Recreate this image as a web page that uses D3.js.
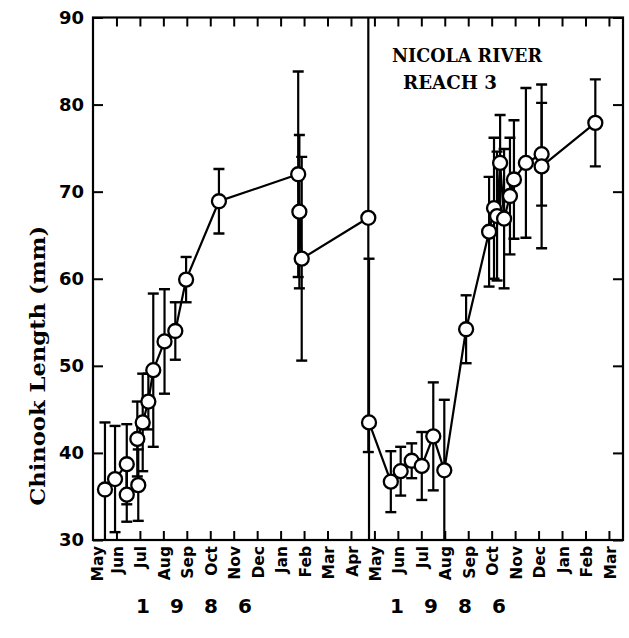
<!DOCTYPE html>
<html>
<head>
<meta charset="utf-8">
<script src="https://cdn.jsdelivr.net/npm/d3@7/dist/d3.min.js"></script>
<style>
  html, body { margin: 0; padding: 0; background: #fff; }
  svg { display: block; }
</style>
</head>
<body>
<svg id="chart" width="629" height="638"></svg>
<script>
// Month tick labels, May 1986 through March of the second season
const monthLabels = ["May","Jun","Jul","Aug","Sep","Oct","Nov","Dec","Jan","Feb","Mar","Apr",
                     "May","Jun","Jul","Aug","Sep","Oct","Nov","Dec","Jan","Feb","Mar"];
const yTicks = [30, 40, 50, 60, 70, 80, 90];
const yearLabels = ["1 9 8 6", "1 9 8 6"];

// First season: sampling time (months after 1 May), mean length (mm), SD (mm)
const monthA = [0.51, 0.94, 1.44, 1.44, 1.93, 1.89, 2.12, 2.36, 2.57, 3.05, 3.51, 3.97, 5.37, 8.75, 8.80, 8.90, 11.74];
const lengthA = [35.8, 37.0, 38.7, 35.2, 36.3, 41.6, 43.5, 45.9, 49.5, 52.8, 54.0, 59.9, 68.9, 72.0, 67.7, 62.3, 67.0];
const sdA     = [7.7, 6.1, 4.6, 3.1, 4.1, 4.3, 5.6, 3.2, 8.8, 6.0, 3.3, 2.6, 3.7, 11.8, 8.8, 11.7, 26.9];

// Second season
const monthB = [11.77, 12.70, 13.12, 13.59, 14.02, 14.51, 14.98, 15.91, 16.89, 17.10, 17.23, 17.36, 17.53, 17.78, 17.95, 18.46, 19.13, 19.13, 21.42];
const lengthB = [43.5, 36.7, 37.9, 39.1, 38.5, 41.9, 38.0, 54.2, 65.4, 68.1, 67.2, 73.3, 66.9, 69.5, 71.4, 73.3, 74.3, 72.9, 77.9];
const sdB     = [18.8, 3.5, 2.8, 2.0, 3.9, 6.2, 8.1, 3.9, 6.3, 8.1, 7.4, 5.5, 8.0, 6.7, 6.8, 8.6, 5.9, 9.4, 5.0];

const svg = d3.select("#chart");
const margin = { left: 93, right: 6, top: 17.5, bottom: 98 };
const W = 629, H = 638;
const x = d3.scaleLinear().domain([0, 22.6]).range([margin.left, W - margin.right]);
const y = d3.scaleLinear().domain([30, 90]).range([H - margin.bottom, margin.top]);

const ink = "#000";
const sans = "'DejaVu Sans', 'Liberation Sans', sans-serif";
const serif = "'DejaVu Serif', 'Liberation Serif', serif";

svg.append("defs").append("clipPath").attr("id", "plotClip")
  .append("rect")
  .attr("x", x(0)).attr("y", y(90))
  .attr("width", x(22.6) - x(0)).attr("height", y(30) - y(90));

// Axes with inward ticks on all four sides
const tickIdx = d3.range(1, monthLabels.length);
svg.append("g")
  .attr("transform", `translate(0,${y(30)})`)
  .call(d3.axisBottom(x).tickValues(tickIdx).tickSize(-9).tickFormat(""))
  .call(g => g.select(".domain").remove())
  .call(g => g.selectAll("line").attr("stroke", ink).attr("stroke-width", 2));
svg.append("g")
  .attr("transform", `translate(0,${y(90)})`)
  .call(d3.axisTop(x).tickValues(tickIdx).tickSize(-9).tickFormat(""))
  .call(g => g.select(".domain").remove())
  .call(g => g.selectAll("line").attr("stroke", ink).attr("stroke-width", 2));
svg.append("g")
  .attr("transform", `translate(${x(0)},0)`)
  .call(d3.axisLeft(y).tickValues(yTicks).tickSize(-10).tickPadding(9).tickFormat(d3.format("d")))
  .call(g => g.select(".domain").remove())
  .call(g => g.selectAll("line").attr("stroke", ink).attr("stroke-width", 2))
  .call(g => g.selectAll("text").attr("fill", ink)
    .style("font-family", sans).style("font-weight", "bold").style("font-size", "18px"));
svg.append("g")
  .attr("transform", `translate(${x(22.6)},0)`)
  .call(d3.axisRight(y).tickValues(yTicks).tickSize(-10).tickFormat(""))
  .call(g => g.select(".domain").remove())
  .call(g => g.selectAll("line").attr("stroke", ink).attr("stroke-width", 2));

// Plot frame
svg.append("rect")
  .attr("x", x(0)).attr("y", y(90))
  .attr("width", x(22.6) - x(0)).attr("height", y(30) - y(90))
  .attr("fill", "none").attr("stroke", ink).attr("stroke-width", 2.2);

// Month labels, rotated
svg.append("g").selectAll("text")
  .data(monthLabels)
  .join("text")
  .attr("transform", (d, i) => `translate(${x(i) + (i === 0 ? 4 : 1)},${y(30) + 6}) rotate(-90)`)
  .attr("text-anchor", "end")
  .attr("dy", "0.36em")
  .style("font-family", sans).style("font-weight", "bold").style("font-size", "15.5px")
  .attr("fill", ink)
  .text(d => d);

// Year labels under each season
svg.append("g").selectAll("text")
  .data(yearLabels)
  .join("text")
  .attr("x", (d, i) => i === 0 ? 136 : 390)
  .attr("y", 613)
  .attr("textLength", 116).attr("lengthAdjust", "spacing")
  .style("font-family", sans).style("font-weight", "bold").style("font-size", "20px")
  .attr("fill", ink)
  .text(d => d);

// Y axis title
svg.append("text")
  .attr("transform", `translate(38,${(y(30) + y(90)) / 2 + 87}) rotate(-90)`)
  .attr("text-anchor", "middle")
  .attr("dy", "0.35em")
  .attr("textLength", 280).attr("lengthAdjust", "spacingAndGlyphs")
  .style("font-family", serif).style("font-weight", "bold").style("font-size", "20px")
  .attr("fill", ink)
  .text("Chinook Length (mm)");

// Reach title
svg.append("text").attr("x", 392).attr("y", 62)
  .attr("textLength", 150).attr("lengthAdjust", "spacingAndGlyphs")
  .style("font-family", serif).style("font-weight", "bold").style("font-size", "19px")
  .attr("fill", ink).text("NICOLA RIVER");
svg.append("text").attr("x", 403).attr("y", 89)
  .attr("textLength", 94).attr("lengthAdjust", "spacingAndGlyphs")
  .style("font-family", serif).style("font-weight", "bold").style("font-size", "19px")
  .attr("fill", ink).text("REACH 3");

const plot = svg.append("g").attr("clip-path", "url(#plotClip)");

function drawSeries(months, lengths, sds) {
  const pts = months.map((m, i) => ({ m, v: lengths[i], s: sds[i] }));
  const g = plot.append("g");
  // error bars
  const eb = g.append("g").selectAll("g").data(pts).join("g");
  eb.append("line")
    .attr("x1", d => x(d.m)).attr("x2", d => x(d.m))
    .attr("y1", d => y(d.v + d.s)).attr("y2", d => y(d.v - d.s))
    .attr("stroke", ink).attr("stroke-width", 2.2);
  [1, -1].forEach(sign => {
    eb.append("line")
      .attr("x1", d => x(d.m) - 5.5).attr("x2", d => x(d.m) + 5.5)
      .attr("y1", d => y(d.v + sign * d.s)).attr("y2", d => y(d.v + sign * d.s))
      .attr("stroke", ink).attr("stroke-width", 2.4);
  });
  // connecting line
  g.append("path")
    .datum(pts)
    .attr("d", d3.line().x(d => x(d.m)).y(d => y(d.v)))
    .attr("fill", "none").attr("stroke", ink).attr("stroke-width", 2.2);
  // open circles
  g.append("g").selectAll("circle").data(pts).join("circle")
    .attr("cx", d => x(d.m)).attr("cy", d => y(d.v)).attr("r", 7)
    .attr("fill", "#fff").attr("stroke", ink).attr("stroke-width", 2.3);
}

drawSeries(monthA, lengthA, sdA);
drawSeries(monthB, lengthB, sdB);
</script>
</body>
</html>
